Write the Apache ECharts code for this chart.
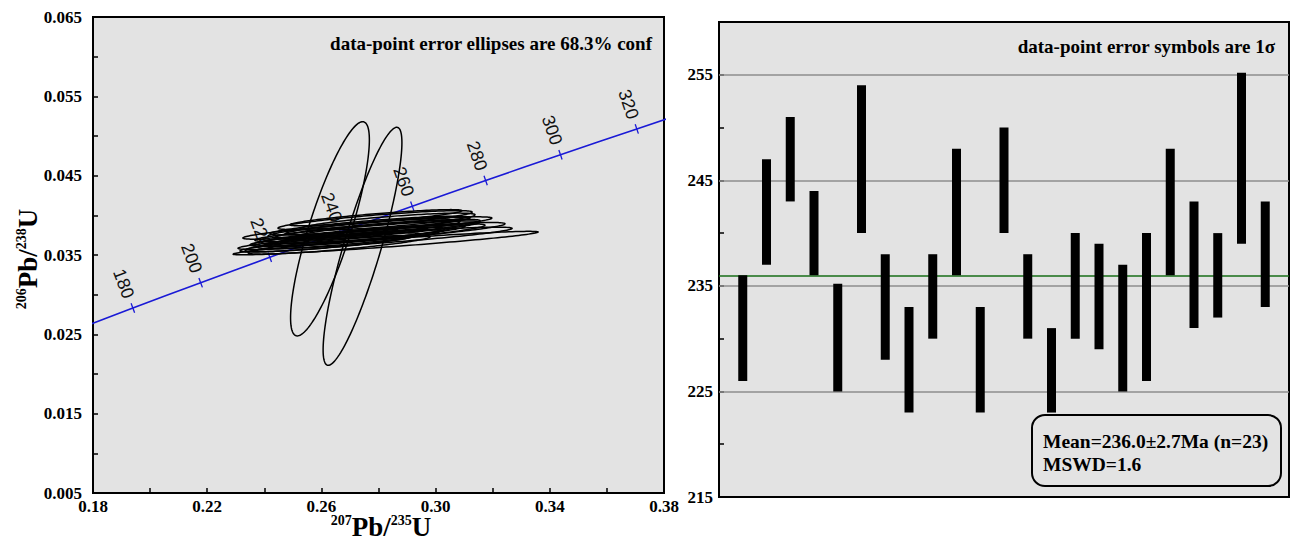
<!DOCTYPE html>
<html><head><meta charset="utf-8">
<script src="https://cdn.jsdelivr.net/npm/echarts@6/dist/echarts.min.js"></script>
<style>html,body{margin:0;padding:0;background:#fff}#c{width:1291px;height:543px}</style>
</head><body><div id="c"></div>
<script>
// ---------- Concordia reference points (age Ma, 207Pb/235U, 206Pb/238U) ----------
const concAge = [160, 180, 200, 220, 240, 260, 280, 300, 320, 340];
const concX = [0.17068, 0.19396, 0.21771, 0.24193, 0.26664, 0.29183, 0.31753, 0.34374, 0.37047, 0.39773];
const concY = [0.025131, 0.028316, 0.031511, 0.034717, 0.037932, 0.041157, 0.044392, 0.047637, 0.050893, 0.054158];
const tickAges = [180, 200, 220, 240, 260, 280, 300, 320];

// ---------- Error ellipses: centre, half extents, correlation ----------
const ellX   = [0.2630, 0.2744, 0.2825, 0.2788, 0.2761, 0.2788, 0.2747, 0.2709, 0.2761, 0.2770, 0.2791, 0.2832, 0.2639, 0.2697, 0.2788, 0.2761, 0.2797, 0.2662, 0.2832, 0.2849, 0.2613, 0.2732, 0.2695];
const ellY   = [0.0383, 0.0361, 0.0365, 0.0371, 0.0384, 0.0394, 0.0376, 0.0374, 0.0380, 0.0387, 0.0397, 0.0392, 0.0366, 0.0370, 0.0375, 0.0382, 0.0387, 0.0363, 0.0383, 0.0378, 0.0364, 0.0384, 0.0373];
const ellSX  = [0.0138, 0.0138, 0.0534, 0.0480, 0.0436, 0.0340, 0.0356, 0.0359, 0.0394, 0.0350, 0.0301, 0.0306, 0.0306, 0.0319, 0.0385, 0.0324, 0.0324, 0.0319, 0.0324, 0.0394, 0.0298, 0.0319, 0.0338];
const ellSY  = [0.0135, 0.0150, 0.00148, 0.00141, 0.00141, 0.00119, 0.00119, 0.00130, 0.00130, 0.00119, 0.00102, 0.00108, 0.00119, 0.00119, 0.00141, 0.00119, 0.00113, 0.00119, 0.00119, 0.00130, 0.00102, 0.00119, 0.00119];
const ellRho = [0.83, 0.87, 0.94, 0.89, 0.89, 0.85, 0.85, 0.87, 0.87, 0.85, 0.87, 0.81, 0.85, 0.85, 0.89, 0.85, 0.89, 0.85, 0.85, 0.87, 0.87, 0.85, 0.85];

// ---------- Weighted mean plot (206Pb/238U ages, 1 sigma) ----------
const spotNo   = [1, 2, 3, 4, 5, 6, 7, 8, 9, 10, 11, 12, 13, 14, 15, 16, 17, 18, 19, 20, 21, 22, 23];
const ageLow   = [226, 237, 243, 236, 225, 240, 228, 223, 230, 236, 223, 240, 230, 223, 230, 229, 225, 226, 236, 231, 232, 239, 233];
const ageHigh  = [236, 247, 251, 244, 235.2, 254, 238, 233, 238, 248, 233, 250, 238, 231, 240, 239, 237, 240, 248, 243, 240, 255.2, 243];
const meanAge  = 236.0;
const gridAges = [225, 235, 245, 255];

const serif = '"Liberation Serif","Times New Roman",serif';
const sans = '"Liberation Sans",Arial,sans-serif';
const plotBg = '#e3e3e3';

const chart = echarts.init(document.getElementById('c'), null, {renderer: 'svg'});

function labelStyle(margin) {
  return {fontFamily: serif, fontWeight: 'bold', fontSize: 17, color: '#000', margin: margin};
}

const option = {
  animation: false,
  backgroundColor: '#fff',
  grid: [
    {left: 93, top: 17, width: 571, height: 476, show: true, backgroundColor: plotBg, borderColor: '#000', borderWidth: 2},
    {left: 719, top: 22, width: 570, height: 475, show: true, backgroundColor: plotBg, borderColor: '#000', borderWidth: 2}
  ],
  xAxis: [
    {type: 'value', gridIndex: 0, min: 0.18, max: 0.38, interval: 0.02,
     axisLine: {show: true, lineStyle: {color: '#000', width: 2}},
     axisTick: {show: true, inside: true, length: 5, lineStyle: {color: '#000', width: 1.5}},
     splitLine: {show: false},
     axisLabel: Object.assign(labelStyle(5), {formatter: v => (Math.round(v * 100) % 4 === 2) ? v.toFixed(2) : ''})},
    {type: 'value', gridIndex: 1, min: 0, max: 24, show: false, splitLine: {show: false}}
  ],
  yAxis: [
    {type: 'value', gridIndex: 0, min: 0.005, max: 0.065, interval: 0.005,
     axisLine: {show: true, lineStyle: {color: '#000', width: 2}},
     axisTick: {show: true, inside: true, length: 5, lineStyle: {color: '#000', width: 1.5}},
     splitLine: {show: false},
     axisLabel: Object.assign(labelStyle(11), {formatter: v => (Math.round(v * 1000) % 10 === 5) ? v.toFixed(3) : ''})},
    {type: 'value', gridIndex: 1, min: 215, max: 260, interval: 5,
     axisLine: {show: true, lineStyle: {color: '#000', width: 2}},
     axisTick: {show: true, inside: true, length: 5, lineStyle: {color: '#000', width: 1.5}},
     splitLine: {show: false},
     axisLabel: Object.assign(labelStyle(6), {formatter: v => (Math.round(v) % 10 === 5) ? String(Math.round(v)) : ''})}
  ],
  series: [
    {
      name: 'concordia', type: 'line', xAxisIndex: 0, yAxisIndex: 0,
      data: concX.map((x, i) => [x, concY[i]]),
      showSymbol: false, smooth: 0.3, clip: true, z: 2,
      lineStyle: {color: '#1a1ad6', width: 1.6}
    },
    {
      name: 'concordia ticks', type: 'custom', xAxisIndex: 0, yAxisIndex: 0, z: 3,
      data: tickAges.map(a => { const i = concAge.indexOf(a); return [concX[i], concY[i], a]; }),
      encode: {x: 0, y: 1},
      renderItem: function (params, api) {
        const age = api.value(2);
        const i = concAge.indexOf(age);
        const p = api.coord([api.value(0), api.value(1)]);
        const a = api.coord([concX[i - 1], concY[i - 1]]);
        const b = api.coord([concX[i + 1], concY[i + 1]]);
        let dx = b[0] - a[0], dy = b[1] - a[1];
        const L = Math.hypot(dx, dy); dx /= L; dy /= L;
        const nx = dy, ny = -dx;
        const tl = 5, off = 26;
        return {type: 'group', children: [
          {type: 'line', shape: {x1: p[0] - nx * tl, y1: p[1] - ny * tl, x2: p[0] + nx * tl, y2: p[1] + ny * tl},
           style: {stroke: '#1a1ad6', lineWidth: 1.3}},
          {type: 'text', x: p[0] + nx * off, y: p[1] + ny * off, rotation: Math.atan2(-dy, dx) - Math.PI / 2,
           style: {x: 0, y: 0, text: String(age), fontSize: 18, fontFamily: sans, fill: '#111', align: 'center', verticalAlign: 'middle'}}
        ]};
      }
    },
    {
      name: 'ellipses', type: 'custom', xAxisIndex: 0, yAxisIndex: 0, z: 4,
      data: ellX.map((x, i) => [x, ellY[i], ellSX[i], ellSY[i], ellRho[i]]),
      encode: {x: 0, y: 1},
      renderItem: function (params, api) {
        const cx = api.value(0), cy = api.value(1), sx = api.value(2), sy = api.value(3), r = api.value(4);
        const k = Math.sqrt(1 - r * r);
        const pts = [];
        const N = 160;
        for (let j = 0; j < N; j++) {
          const t = j / N * 2 * Math.PI;
          pts.push(api.coord([cx + sx * Math.cos(t), cy + sy * (r * Math.cos(t) + k * Math.sin(t))]));
        }
        return {type: 'polygon', shape: {points: pts}, style: {fill: 'none', stroke: '#000', lineWidth: 1.5}};
      }
    },
    {
      name: 'lines', type: 'line', xAxisIndex: 1, yAxisIndex: 1, data: [], z: 1,
      markLine: {
        silent: true, symbol: 'none', label: {show: false}, animation: false,
        data: gridAges.map(v => ({yAxis: v, lineStyle: {color: '#8e8e8e', width: 1.6, type: 'solid'}}))
          .concat([{yAxis: meanAge, lineStyle: {color: '#176e17', width: 1.6, type: 'solid'}}])
      }
    },
    {
      name: 'ages', type: 'custom', xAxisIndex: 1, yAxisIndex: 1, z: 5,
      data: spotNo.map((n, i) => [n, ageLow[i], ageHigh[i]]),
      encode: {x: 0, y: [1, 2]},
      renderItem: function (params, api) {
        const lo = api.coord([api.value(0), api.value(1)]);
        const hi = api.coord([api.value(0), api.value(2)]);
        const w = 9;
        return {type: 'rect', shape: {x: lo[0] - w / 2, y: hi[1], width: w, height: lo[1] - hi[1]}, style: {fill: '#000'}};
      }
    }
  ],
  graphic: [
    {type: 'text', z: 100, x: 652, y: 43,
     style: {text: 'data-point error ellipses are 68.3% conf', align: 'right', verticalAlign: 'middle',
             fontFamily: serif, fontWeight: 'bold', fontSize: 19, fill: '#000'}},
    {type: 'text', z: 100, x: 1275, y: 46,
     style: {text: 'data-point error symbols are 1σ', align: 'right', verticalAlign: 'middle',
             fontFamily: serif, fontWeight: 'bold', fontSize: 19, fill: '#000'}},
    {type: 'rect', z: 100, shape: {x: 1032, y: 415, width: 249, height: 71, r: 13},
     style: {fill: plotBg, stroke: '#000', lineWidth: 2}},
    {type: 'text', z: 101, x: 1043, y: 441,
     style: {text: 'Mean=236.0±2.7Ma (n=23)', align: 'left', verticalAlign: 'middle',
             fontFamily: serif, fontWeight: 'bold', fontSize: 19.5, fill: '#000'}},
    {type: 'text', z: 101, x: 1043, y: 464,
     style: {text: 'MSWD=1.6', align: 'left', verticalAlign: 'middle',
             fontFamily: serif, fontWeight: 'bold', fontSize: 19.5, fill: '#000'}},
    {type: 'text', z: 100, x: 381, y: 527,
     style: {text: '{s|207}{m|Pb/}{s|235}{m|U}', align: 'center', verticalAlign: 'middle',
             rich: {m: {fontFamily: serif, fontWeight: 'bold', fontSize: 27, fill: '#000'},
                    s: {fontFamily: serif, fontWeight: 'bold', fontSize: 14, fill: '#000', verticalAlign: 'top'}}}},
    {type: 'text', z: 100, x: 28, y: 259, rotation: Math.PI / 2,
     style: {text: '{s|206}{m|Pb/}{s|238}{m|U}', align: 'center', verticalAlign: 'middle',
             rich: {m: {fontFamily: serif, fontWeight: 'bold', fontSize: 27, fill: '#000'},
                    s: {fontFamily: serif, fontWeight: 'bold', fontSize: 14, fill: '#000', verticalAlign: 'top'}}}}
  ]
};
chart.setOption(option);
</script>
</body></html>
